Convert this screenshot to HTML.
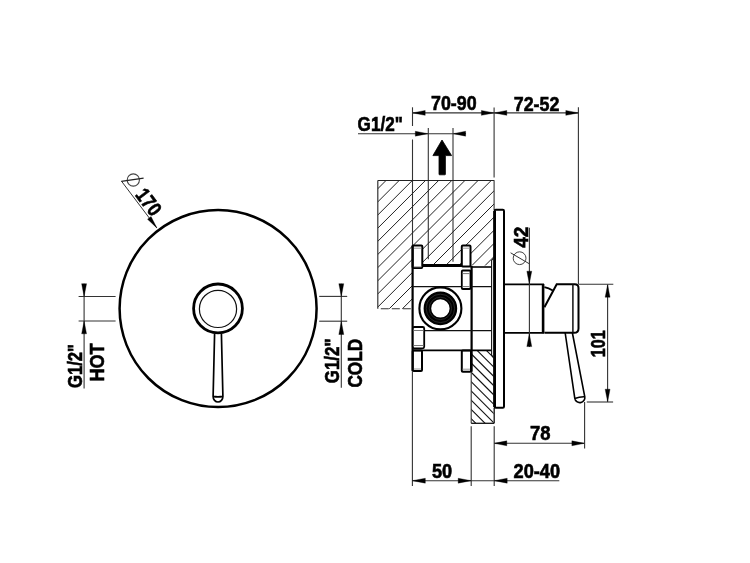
<!DOCTYPE html>
<html><head><meta charset="utf-8"><style>
html,body{margin:0;padding:0;background:#fff;}
svg{display:block;will-change:transform;}
text{font-family:"Liberation Sans",sans-serif;font-weight:bold;fill:#000;stroke:#000;stroke-width:0.6px;}
</style></head><body>
<svg width="750" height="563" viewBox="0 0 750 563">
<rect width="750" height="563" fill="#fff"/>
<circle cx="218.1" cy="308.6" r="98.5" fill="none" stroke="#000" stroke-width="2.5"/>
<circle cx="218" cy="308.4" r="24.4" fill="none" stroke="#000" stroke-width="2.8"/>
<circle cx="218" cy="308.9" r="18.6" fill="none" stroke="#111" stroke-width="1.2"/>
<path d="M214.6,333.4 L213.1,396.4 M221.4,333.4 L222.9,396.4 M213.1,396.4 Q218,397.4 222.9,396.4 M213.1,396.4 A4.9,5.6 0 0 0 222.9,396.4" fill="none" stroke="#000" stroke-width="1.7"/>
<line x1="78.60" y1="296.50" x2="115.60" y2="296.50" stroke="#333" stroke-width="1.1" />
<line x1="78.60" y1="321.00" x2="115.60" y2="321.00" stroke="#333" stroke-width="1.1" />
<line x1="84.10" y1="283.70" x2="84.10" y2="388.50" stroke="#333" stroke-width="1.1" />
<polygon points="84.10,296.50 86.55,283.70 81.65,283.70" fill="#000" stroke="#000" stroke-width="0.35" stroke-linejoin="round"/>
<polygon points="84.10,321.00 81.65,333.80 86.55,333.80" fill="#000" stroke="#000" stroke-width="0.35" stroke-linejoin="round"/>
<line x1="319.20" y1="296.40" x2="347.20" y2="296.40" stroke="#333" stroke-width="1.1" />
<line x1="319.20" y1="321.20" x2="347.20" y2="321.20" stroke="#333" stroke-width="1.1" />
<line x1="341.30" y1="283.70" x2="341.30" y2="387.80" stroke="#333" stroke-width="1.1" />
<polygon points="341.30,296.40 343.75,283.70 338.85,283.70" fill="#000" stroke="#000" stroke-width="0.35" stroke-linejoin="round"/>
<polygon points="341.30,321.20 338.85,334.50 343.75,334.50" fill="#000" stroke="#000" stroke-width="0.35" stroke-linejoin="round"/>
<text x="81.80" y="388.00" font-size="19.6" textLength="44.00" lengthAdjust="spacingAndGlyphs" transform="rotate(-90 81.80 388.00)" text-anchor="start" >G1/2"</text>
<text x="104.20" y="381.60" font-size="19.6" textLength="38.20" lengthAdjust="spacingAndGlyphs" transform="rotate(-90 104.20 381.60)" text-anchor="start" >HOT</text>
<text x="338.90" y="383.20" font-size="19.6" textLength="44.60" lengthAdjust="spacingAndGlyphs" transform="rotate(-90 338.90 383.20)" text-anchor="start" >G1/2"</text>
<text x="361.60" y="387.60" font-size="19.6" textLength="48.90" lengthAdjust="spacingAndGlyphs" transform="rotate(-90 361.60 387.60)" text-anchor="start" >COLD</text>
<line x1="121.50" y1="181.20" x2="156.70" y2="227.80" stroke="#333" stroke-width="1.0" />
<polygon points="156.90,228.00 151.06,216.58 147.54,219.22" fill="#000" stroke="#000" stroke-width="0.35" stroke-linejoin="round"/>
<circle cx="133.3" cy="180.0" r="6.1" fill="none" stroke="#444" stroke-width="1.1"/>
<line x1="121.30" y1="181.30" x2="143.60" y2="178.20" stroke="#222" stroke-width="1.2" />
<text x="134.60" y="194.90" font-size="20.4" textLength="28.30" lengthAdjust="spacingAndGlyphs" transform="rotate(52.9 134.60 194.90)" text-anchor="start" >170</text>
<line x1="412.50" y1="112.90" x2="578.50" y2="112.90" stroke="#333" stroke-width="1.1" />
<polygon points="412.50,112.90 425.20,115.35 425.20,110.45" fill="#000" stroke="#000" stroke-width="0.35" stroke-linejoin="round"/>
<polygon points="494.10,112.90 481.40,110.45 481.40,115.35" fill="#000" stroke="#000" stroke-width="0.35" stroke-linejoin="round"/>
<polygon points="494.10,112.90 506.80,115.35 506.80,110.45" fill="#000" stroke="#000" stroke-width="0.35" stroke-linejoin="round"/>
<polygon points="578.50,112.90 565.80,110.45 565.80,115.35" fill="#000" stroke="#000" stroke-width="0.35" stroke-linejoin="round"/>
<text x="431.00" y="110.30" font-size="19.6" textLength="45.60" lengthAdjust="spacingAndGlyphs" text-anchor="start" >70-90</text>
<text x="513.80" y="110.70" font-size="19.6" textLength="45.60" lengthAdjust="spacingAndGlyphs" text-anchor="start" >72-52</text>
<line x1="358.00" y1="133.70" x2="466.00" y2="133.70" stroke="#333" stroke-width="1.1" />
<polygon points="428.00,133.70 415.30,131.25 415.30,136.15" fill="#000" stroke="#000" stroke-width="0.35" stroke-linejoin="round"/>
<polygon points="453.20,133.70 465.60,136.15 465.60,131.25" fill="#000" stroke="#000" stroke-width="0.35" stroke-linejoin="round"/>
<text x="357.60" y="130.70" font-size="19.6" textLength="45.20" lengthAdjust="spacingAndGlyphs" text-anchor="start" >G1/2"</text>
<line x1="412.50" y1="107.30" x2="412.50" y2="126.00" stroke="#333" stroke-width="1.1" />
<line x1="412.50" y1="139.50" x2="412.50" y2="245.40" stroke="#333" stroke-width="1.1" />
<line x1="428.30" y1="128.00" x2="428.30" y2="259.20" stroke="#333" stroke-width="1.1" />
<line x1="453.00" y1="128.00" x2="453.00" y2="261.80" stroke="#333" stroke-width="1.1" />
<line x1="494.10" y1="107.50" x2="494.10" y2="177.50" stroke="#333" stroke-width="1.1" />
<line x1="578.40" y1="107.30" x2="578.40" y2="284.30" stroke="#333" stroke-width="1.1" />
<path d="M442,140 L451.6,155.6 L445.4,155.6 L445.4,174.2 Q445.4,174.8 444.8,174.8 L439.6,174.8 Q439,174.8 439,174.2 L439,155.6 L432.9,155.6 Z" fill="#000" stroke="#000" stroke-width="0.8" stroke-linejoin="round"/>
<clipPath id="cu"><path d="M377.8,180.3 H494.1 V258 L491.6,260.4 V265.4 H470.5 V245.4 H461.8 V265.4 H422.3 V245.4 H412.6 V308.8 H377.8 Z"/></clipPath>
<path clip-path="url(#cu)" d="M220.20,320 L370.20,170 M233.35,320 L383.35,170 M246.50,320 L396.50,170 M259.65,320 L409.65,170 M272.80,320 L422.80,170 M285.95,320 L435.95,170 M299.10,320 L449.10,170 M312.25,320 L462.25,170 M325.40,320 L475.40,170 M338.55,320 L488.55,170 M351.70,320 L501.70,170 M364.85,320 L514.85,170 M378.00,320 L528.00,170 M391.15,320 L541.15,170 M404.30,320 L554.30,170 M417.45,320 L567.45,170 M430.60,320 L580.60,170 M443.75,320 L593.75,170 M456.90,320 L606.90,170 M470.05,320 L620.05,170 M483.20,320 L633.20,170 M496.35,320 L646.35,170" stroke="#222" stroke-width="1.0" fill="none"/>
<line x1="377.80" y1="180.50" x2="494.10" y2="180.50" stroke="#222" stroke-width="1.2" />
<line x1="377.80" y1="180.50" x2="377.80" y2="308.80" stroke="#333" stroke-width="1.2" />
<line x1="377.80" y1="308.80" x2="412.60" y2="308.80" stroke="#333" stroke-width="1.1" stroke-dasharray="8 3" stroke-dashoffset="-3"/>
<line x1="494.10" y1="180.30" x2="494.10" y2="210.00" stroke="#333" stroke-width="1.1" />
<clipPath id="cl"><path d="M471.2,350.6 H491 L493.6,357.4 V423.3 H471.2 Z"/></clipPath>
<path clip-path="url(#cl)" d="M460,305.52 L500,345.52 M460,314.79 L500,354.79 M460,324.06 L500,364.06 M460,333.33 L500,373.33 M460,342.60 L500,382.60 M460,351.87 L500,391.87 M460,361.14 L500,401.14 M460,370.41 L500,410.41 M460,379.68 L500,419.68 M460,388.95 L500,428.95 M460,398.22 L500,438.22 M460,407.49 L500,447.49 M460,416.76 L500,456.76 M460,426.03 L500,466.03 M460,435.30 L500,475.30 M460,444.57 L500,484.57" stroke="#111" stroke-width="1.1" fill="none"/>
<line x1="471.20" y1="350.60" x2="471.20" y2="423.30" stroke="#333" stroke-width="1.1" />
<line x1="471.20" y1="423.30" x2="494.20" y2="423.30" stroke="#111" stroke-width="1.3" />
<line x1="494.20" y1="407.80" x2="494.20" y2="423.30" stroke="#111" stroke-width="1.3" />
<rect x="494.6" y="209.8" width="9.4" height="197.9" rx="1.2" fill="none" stroke="#000" stroke-width="2"/>
<line x1="494.60" y1="211.00" x2="494.60" y2="407.00" stroke="#000" stroke-width="2.8" />
<rect x="412.6" y="245.4" width="9.70" height="22.60" rx="1" fill="#fff" stroke="#000" stroke-width="2"/>
<rect x="461.8" y="245.4" width="8.70" height="21.10" rx="1" fill="#fff" stroke="#000" stroke-width="2"/>
<rect x="412.7" y="350.6" width="9.30" height="20.40" rx="1" fill="#fff" stroke="#000" stroke-width="2"/>
<rect x="461.8" y="350.6" width="9.20" height="21.10" rx="1" fill="#fff" stroke="#000" stroke-width="2"/>
<line x1="413.50" y1="248.20" x2="421.40" y2="248.20" stroke="#999" stroke-width="1.0" />
<line x1="413.50" y1="266.80" x2="421.40" y2="266.80" stroke="#999" stroke-width="1.0" />
<line x1="462.60" y1="248.20" x2="469.70" y2="248.20" stroke="#999" stroke-width="1.0" />
<line x1="413.50" y1="369.00" x2="421.20" y2="369.00" stroke="#999" stroke-width="1.0" />
<line x1="462.60" y1="369.20" x2="470.20" y2="369.20" stroke="#999" stroke-width="1.0" />
<line x1="412.60" y1="245.40" x2="412.60" y2="371.00" stroke="#000" stroke-width="2.2" />
<line x1="471.60" y1="266.00" x2="471.60" y2="371.70" stroke="#000" stroke-width="2.2" />
<line x1="422.30" y1="265.60" x2="461.80" y2="265.60" stroke="#000" stroke-width="3.0" />
<line x1="470.50" y1="267.00" x2="491.60" y2="267.00" stroke="#000" stroke-width="1.6" />
<line x1="412.60" y1="286.60" x2="491.60" y2="286.60" stroke="#111" stroke-width="1.2" />
<line x1="424.20" y1="330.60" x2="491.60" y2="330.60" stroke="#111" stroke-width="1.2" />
<line x1="412.60" y1="350.40" x2="491.60" y2="350.40" stroke="#000" stroke-width="1.8" />
<path d="M493.6,258 L491.6,260.4 V355.2 L493.6,357.6" fill="none" stroke="#111" stroke-width="1.1"/>
<rect x="461.8" y="270.5" width="8.7" height="18.5" rx="1" fill="#fff" stroke="#000" stroke-width="1.8"/>
<line x1="462.60" y1="273.60" x2="469.70" y2="273.60" stroke="#777" stroke-width="1.0" />
<line x1="462.60" y1="286.60" x2="469.70" y2="286.60" stroke="#777" stroke-width="1.0" />
<rect x="412.8" y="327" width="11.4" height="21.3" rx="1.5" fill="#fff" stroke="#000" stroke-width="1.8"/>
<line x1="413.60" y1="330.50" x2="423.40" y2="330.50" stroke="#777" stroke-width="1.0" />
<line x1="413.60" y1="345.50" x2="423.40" y2="345.50" stroke="#777" stroke-width="1.0" />
<circle cx="440.4" cy="308.4" r="21" fill="#fff" stroke="#000" stroke-width="2.1"/>
<circle cx="440.4" cy="308.4" r="13.0" fill="none" stroke="#000" stroke-width="7.6"/>
<circle cx="440.4" cy="308.4" r="11.2" fill="none" stroke="#3a3a3a" stroke-width="0.7"/>
<circle cx="440.4" cy="308.4" r="14.2" fill="none" stroke="#3a3a3a" stroke-width="0.7"/>
<path d="M503.6,284.3 H543.1 V332.8 H503.6" fill="none" stroke="#000" stroke-width="1.8"/>
<line x1="543.10" y1="284.00" x2="543.10" y2="333.20" stroke="#000" stroke-width="2.6" />
<path d="M544.4,307.3 L556.7,284.3 H574.8 Q578.5,284.3 578.5,288 V328.4 Q578.5,332.8 574.1,332.8 H544.4" fill="none" stroke="#000" stroke-width="2.0"/>
<line x1="572.90" y1="284.30" x2="572.90" y2="332.80" stroke="#111" stroke-width="1.5" />
<path d="M544.4,287.2 Q548.6,288.0 552.8,290.6" fill="none" stroke="#000" stroke-width="1.8"/>
<path d="M565.2,333 L574.8,398.4 M572.4,333 L584.8,396.8 M574.8,398.4 Q579.6,396.6 584.8,396.8 M574.8,398.4 A5,5 0 0 0 584.8,396.8" fill="none" stroke="#000" stroke-width="1.6"/>
<line x1="529.40" y1="227.80" x2="529.40" y2="347.00" stroke="#333" stroke-width="1.1" />
<polygon points="529.30,283.70 531.75,271.20 526.85,271.20" fill="#000" stroke="#000" stroke-width="0.35" stroke-linejoin="round"/>
<polygon points="529.30,333.70 526.85,346.60 531.75,346.60" fill="#000" stroke="#000" stroke-width="0.35" stroke-linejoin="round"/>
<circle cx="519.6" cy="258.2" r="6.4" fill="none" stroke="#444" stroke-width="1"/>
<line x1="510.60" y1="252.80" x2="529.00" y2="263.60" stroke="#333" stroke-width="1.0" />
<text x="528.00" y="247.80" font-size="19.6" textLength="21.20" lengthAdjust="spacingAndGlyphs" transform="rotate(-90 528.00 247.80)" text-anchor="start" >42</text>
<line x1="578.50" y1="284.30" x2="613.30" y2="284.30" stroke="#333" stroke-width="1.1" />
<line x1="586.80" y1="402.00" x2="613.10" y2="402.00" stroke="#333" stroke-width="1.1" />
<line x1="607.60" y1="284.70" x2="607.60" y2="401.70" stroke="#333" stroke-width="1.1" />
<polygon points="607.60,284.70 605.15,297.20 610.05,297.20" fill="#000" stroke="#000" stroke-width="0.35" stroke-linejoin="round"/>
<polygon points="607.60,401.70 610.05,389.20 605.15,389.20" fill="#000" stroke="#000" stroke-width="0.35" stroke-linejoin="round"/>
<text x="605.10" y="357.20" font-size="19.6" textLength="27.00" lengthAdjust="spacingAndGlyphs" transform="rotate(-90 605.10 357.20)" text-anchor="start" >101</text>
<line x1="494.10" y1="443.30" x2="584.60" y2="443.30" stroke="#333" stroke-width="1.1" />
<polygon points="494.10,443.30 506.80,445.75 506.80,440.85" fill="#000" stroke="#000" stroke-width="0.35" stroke-linejoin="round"/>
<polygon points="584.60,443.30 571.90,440.85 571.90,445.75" fill="#000" stroke="#000" stroke-width="0.35" stroke-linejoin="round"/>
<line x1="584.60" y1="402.00" x2="584.60" y2="448.40" stroke="#333" stroke-width="1.1" />
<text x="530.00" y="440.30" font-size="19.6" textLength="20.50" lengthAdjust="spacingAndGlyphs" text-anchor="start" >78</text>
<line x1="494.20" y1="426.30" x2="494.20" y2="486.00" stroke="#333" stroke-width="1.1" />
<line x1="471.20" y1="426.30" x2="471.20" y2="486.00" stroke="#333" stroke-width="1.1" />
<line x1="412.40" y1="371.00" x2="412.40" y2="486.00" stroke="#333" stroke-width="1.1" />
<line x1="412.30" y1="480.70" x2="559.30" y2="480.70" stroke="#333" stroke-width="1.1" />
<polygon points="412.30,480.70 425.30,483.15 425.30,478.25" fill="#000" stroke="#000" stroke-width="0.35" stroke-linejoin="round"/>
<polygon points="471.20,480.70 458.20,478.25 458.20,483.15" fill="#000" stroke="#000" stroke-width="0.35" stroke-linejoin="round"/>
<polygon points="494.20,480.70 507.20,483.15 507.20,478.25" fill="#000" stroke="#000" stroke-width="0.35" stroke-linejoin="round"/>
<text x="432.00" y="478.00" font-size="19.6" textLength="20.20" lengthAdjust="spacingAndGlyphs" text-anchor="start" >50</text>
<text x="513.60" y="478.00" font-size="19.6" textLength="46.50" lengthAdjust="spacingAndGlyphs" text-anchor="start" >20-40</text>
</svg>
</body></html>
